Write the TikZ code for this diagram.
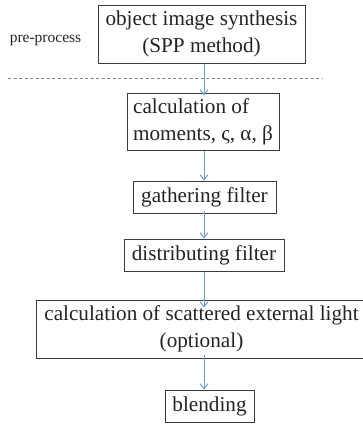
\documentclass[tikz,border=0pt]{standalone}
\usepackage{fontspec}
\setmainfont{Liberation Serif}
\usetikzlibrary{arrows.meta}
\definecolor{arrblue}{RGB}{110,155,210}
\definecolor{boxgray}{RGB}{60,60,60}
\definecolor{txtgray}{RGB}{35,35,35}
\begin{document}
\begin{tikzpicture}[x=1pt,y=-1pt,
  stepbox/.style={draw=boxgray,line width=1pt,inner sep=0pt,text=txtgray,
    font=\fontsize{21.2}{27}\selectfont,align=center},
  arr/.style={draw=arrblue,line width=1pt,-{Straight Barb[length=5pt,width=8pt]}},
  sep/.style={draw=gray,line width=1pt,dash pattern=on 3pt off 2.5pt}]
\useasboundingbox (0,0) rectangle (363,424);
\clip (0,0) rectangle (363,424);
\node[stepbox,minimum width=207pt,minimum height=58pt] (b1) at (201.5,34)
  {object image synthesis\\(SPP method)};
\node[text=txtgray,font=\fontsize{15.5}{18}\selectfont] (pp) at (45.5,40) {pre-process};
\coordinate (d1) at (8,78);
\coordinate (d2) at (323,78);
\draw[sep] (d1) -- (d2);
\node[stepbox,minimum width=152pt,minimum height=57pt,align=left] (b2) at (203,121.5)
  {calculation of\\moments, ς, α, β};
\node[stepbox,minimum width=143pt,minimum height=32pt] (b3) at (204.5,197) {gathering filter};
\node[stepbox,minimum width=160pt,minimum height=32pt] (b4) at (204,255) {distributing filter};
\node[stepbox,minimum width=350pt,minimum height=58pt] (b5) at (211.5,329)
  {\hspace*{-20pt}calculation of scattered external light\\\hspace*{-20pt}(optional)};
\node[stepbox,minimum width=89pt,minimum height=32pt] (b6) at (209.5,406) {blending};
\coordinate (ax) at (204,0);
\draw[arr] (b1.south -| ax) -- ([yshift=-3pt]b2.north -| ax);
\draw[arr] (b2.south -| ax) -- (b3.north -| ax);
\draw[arr] ([yshift=3pt]b3.south -| ax) -- (b4.north -| ax);
\draw[arr] (b4.south -| ax) -- ([yshift=-8pt]b5.north -| ax);
\draw[arr] ([yshift=4pt]b5.south -| ax) -- (b6.north -| ax);
\end{tikzpicture}
\end{document}
